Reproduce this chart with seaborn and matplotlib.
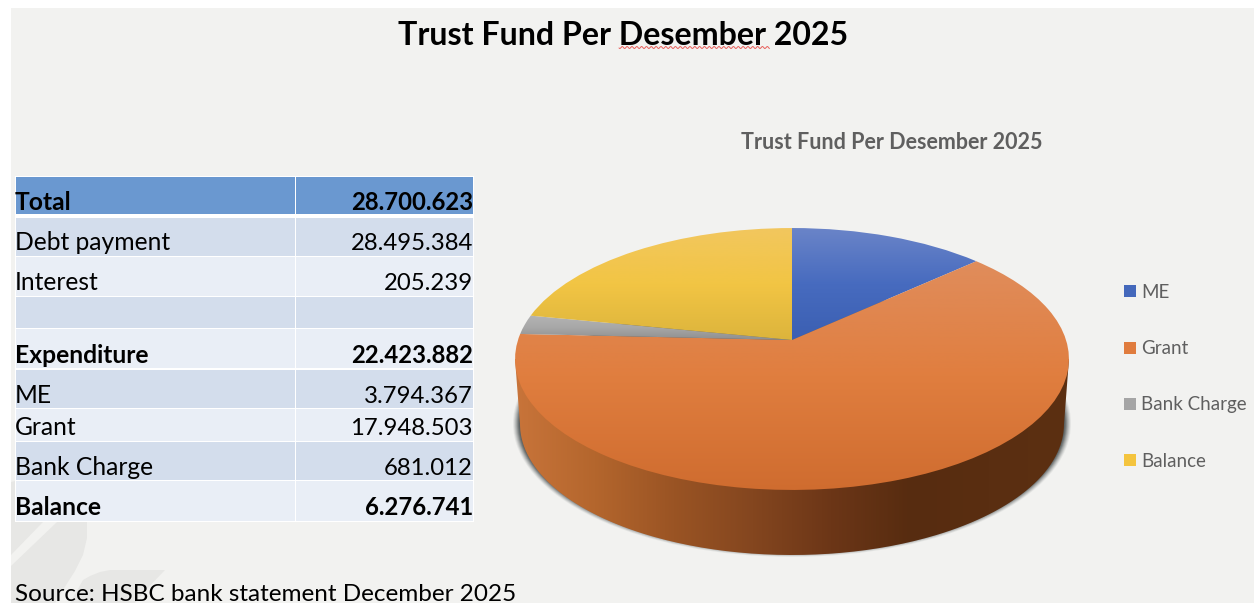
import numpy as np
import matplotlib
matplotlib.use("Agg")
import matplotlib.pyplot as plt
import seaborn as sns
from matplotlib.colors import LinearSegmentedColormap
from matplotlib.patches import Rectangle, Polygon, Ellipse, PathPatch, Patch
from matplotlib.path import Path
from matplotlib.transforms import Transform

# ---------- Data ----------
row_labels = ["Total", "Debt payment", "Interest", "", "Expenditure", "ME", "Grant", "Bank Charge", "Balance"]
row_values = ["28.700.623", "28.495.384", "205.239", "", "22.423.882", "3.794.367", "17.948.503", "681.012", "6.276.741"]
bold_rows = ["Total", "Expenditure", "Balance"]

pie_labels = ["ME", "Grant", "Bank Charge", "Balance"]
pie_values = [3794367, 17948503, 681012, 6276741]

title = "Trust Fund Per Desember 2025"
source = "Source: HSBC bank statement December 2025"

# ---------- Style ----------
sns.set_theme(style="white")
plt.rcParams["font.family"] = ["Lato", "DejaVu Sans"]

pie_colors = sns.color_palette(["#4468bb", "#e07c3e", "#a5a5a5", "#f4c43e"])
# top -> bottom of each slice
pie_shades = [
    ["#6a84c8", "#476bbf", "#3b5fb2"],
    ["#e08d5c", "#e07e3f", "#cf6c2f"],
    ["#b4b4b4", "#a8a8a8", "#8f8f8f"],
    ["#f2c75e", "#f2c544", "#dcb43c"],
]
wall_colors = ["#c8743a", "#b4662d", "#9a5424", "#84461f", "#6c3617", "#572c10", "#5a2e11", "#5c3012"]

BG = "#f2f2f0"
HEADER = "#6a98d0"
BAND_DARK = "#d3ddec"
BAND_LIGHT = "#e9eef6"

W, H = 1254, 603
fig = plt.figure(figsize=(W / 100, H / 100), dpi=100, facecolor="white")
ax = fig.add_axes([0, 0, 1, 1])


class TiltedDisc(Transform):
    """Unit disc seen in perspective, so the pie apex sits above the ellipse centre."""
    input_dims = 2
    output_dims = 2
    is_affine = False
    has_inverse = False

    def __init__(self, cx, cy, k, a, c):
        super().__init__()
        self.cx, self.cy, self.k, self.a, self.c = cx, cy, k, a, c

    def transform_non_affine(self, values):
        values = np.asarray(values)
        d = 1 + self.c * values[:, 1]
        return np.column_stack([self.cx + self.k * values[:, 0] / d,
                                self.cy - self.a * values[:, 1] / d])


def finish_limits():
    ax.set_xlim(0, W)
    ax.set_ylim(H, 0)
    ax.set_aspect("auto")
    ax.axis("off")


# ---------- Background ----------
wedges, _ = ax.pie(pie_values, startangle=90, counterclock=False, radius=1)
finish_limits()

ax.add_patch(Rectangle((11, 8), W - 11, H - 8, fc=BG, ec="none", zorder=0))

# watermark leaves
leaf_color = "#e7e7e5"
ax.add_patch(Polygon([(11, 482), (60, 470), (43, 522), (11, 555)], fc=leaf_color, ec="none", zorder=0.5))
ax.add_patch(Polygon([(57, 522), (87, 522), (87, 538), (83, 555), (75, 571), (68, 582), (55, 603),
                      (11, 603), (11, 566)],
                     fc=leaf_color, ec="none", zorder=0.5))
ax.add_patch(Polygon([(83, 580), (90, 576), (100, 572), (110, 570), (165, 570), (143, 593), (135, 603), (70, 603)],
                     fc=leaf_color, ec="none", zorder=0.5))

# ---------- Table ----------
row_edges = [(177, 214), (218, 256), (257, 296), (297, 328), (329, 368),
             (370, 408), (409, 441), (442, 480), (481, 521)]
row_fills = [HEADER, BAND_DARK, BAND_LIGHT, BAND_DARK, BAND_LIGHT, BAND_DARK, BAND_LIGHT, BAND_DARK, BAND_LIGHT]
baselines = [210, 250, 290, None, 363, 403, 435, 475, 515]

ax.add_patch(Rectangle((15, 176), 459, 346, fc="white", ec="none", zorder=1))
for i, (top, bottom) in enumerate(row_edges):
    ax.add_patch(Rectangle((16, top), 279, bottom - top, fc=row_fills[i], ec="none", zorder=2))
    ax.add_patch(Rectangle((296, top), 177, bottom - top, fc=row_fills[i], ec="none", zorder=2))
    if baselines[i] is None:
        continue
    weight = "bold" if row_labels[i] in bold_rows else "normal"
    ax.text(15, baselines[i], row_labels[i], fontsize=17.7, fontweight=weight, color="black",
            va="baseline", ha="left", zorder=3)
    ax.text(473, baselines[i], row_values[i], fontsize=17.2, fontweight=weight, color="black",
            va="baseline", ha="right", zorder=3)

# ---------- Titles ----------
ax.text(623.5, 45, title, fontsize=23.1, fontweight="bold", color="black", ha="center", va="baseline", zorder=3)
squiggle_x = np.arange(619, 770, 0.5)
ax.plot(squiggle_x, 47.5 + 1.0 * np.sin(squiggle_x * 1.3), color="#e8605c", lw=0.7, zorder=3)
ax.text(892, 149, title, fontsize=15.5, fontweight="bold", color="#5f5f5f", ha="center", va="baseline", zorder=3)
ax.text(15, 601, source, fontsize=17.47, color="black", ha="left", va="baseline", zorder=3)

# ---------- 3D pie ----------
# soft shadow under the cylinder
for grow, alpha in zip([8, 7, 6, 5, 4, 3, 2], [0.08, 0.12, 0.16, 0.2, 0.3, 0.4, 0.5]):
    ax.add_patch(Ellipse((792, 423.5), 2 * (271 + grow), 2 * (127 + grow * 0.8), fc="#4a5050", ec="none",
                         alpha=alpha, zorder=4))

# side wall
theta = np.linspace(0, np.pi, 200)
wall_x = np.r_[792 + 277 * np.cos(theta[0]), 792 + 272 * np.cos(theta), 792 + 277 * np.cos(theta[-1])]
wall_y = np.r_[359, 424 + 131 * np.sin(theta), 359]
wall_path = PathPatch(Path(np.column_stack([wall_x, wall_y])), transform=ax.transData, fc="none", ec="none")
ax.add_patch(wall_path)
wall_cmap = LinearSegmentedColormap.from_list("wall", wall_colors)
wall_im = ax.imshow(np.linspace(0, 1, 256)[None, :], cmap=wall_cmap, extent=(515, 1069, 556, 350),
                    aspect="auto", zorder=5)
wall_im.set_clip_path(wall_path)

# top face: one vertical gradient per slice
finish_limits()
persp = TiltedDisc(792, 340, 274, 128.2, 0.145)
slice_extents = []
for wedge in wedges:
    wedge.set_transform(persp + ax.transData)
    wedge.set_facecolor("none")
    wedge.set_edgecolor("none")
    outline = wedge.get_transform().transform_path(wedge.get_path())
    slice_extents.append(ax.transData.inverted().transform(outline.vertices)[:, 1])

for wedge, shades, name, ys in zip(wedges, pie_shades, pie_labels, slice_extents):
    cmap = LinearSegmentedColormap.from_list(name, shades)
    im = ax.imshow(np.linspace(0, 1, 256)[:, None], cmap=cmap, extent=(510, 1075, ys.max(), ys.min()),
                   aspect="auto", zorder=6, origin="upper")
    im.set_clip_path(wedge)
finish_limits()

# ---------- Legend ----------
handles = [Patch(fc=c, ec="none", label=l) for c, l in zip(pie_colors, pie_labels)]
leg = ax.legend(handles=handles, loc="upper left", bbox_to_anchor=(1124 / W, 1 - 284 / H),
                bbox_transform=fig.transFigure, frameon=False, fontsize=13.5, labelcolor="#5f5f5f",
                handlelength=0.62, handleheight=0.62, handletextpad=0.28, labelspacing=2.09,
                borderpad=0, borderaxespad=0)

fig.savefig("out.png", dpi=100, facecolor="white")
